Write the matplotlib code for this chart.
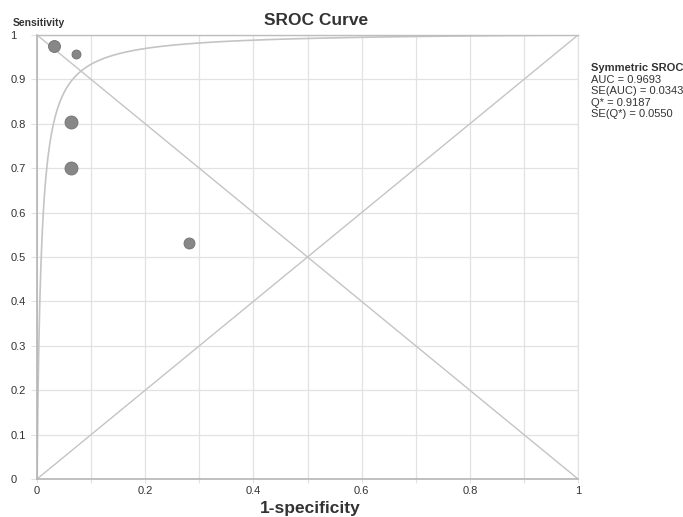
import numpy as np
import matplotlib.pyplot as plt

plt.rcParams['font.family'] = ['Liberation Sans', 'DejaVu Sans']

# study points (1-specificity, sensitivity) and relative marker size
fpr = [0.031, 0.072, 0.063, 0.063, 0.281]
tpr = [0.975, 0.957, 0.804, 0.700, 0.532]
msize = [12, 9, 13, 13, 11]

# symmetric SROC summary
auc = 0.9693
se_auc = 0.0343
q_star = 0.9187
se_q = 0.0550

ticks = np.round(np.arange(0, 1.01, 0.1), 1)
xlabels = ['0', '', '0.2', '', '0.4', '', '0.6', '', '0.8', '', '1']
ylabels = ['0', '0.1', '0.2', '0.3', '0.4', '0.5', '0.6', '0.7', '0.8', '0.9', '1']

fig = plt.figure(figsize=(6.83, 5.17), dpi=100)
ax = fig.add_axes([0.0542, 0.0735, 0.7921, 0.8588])

grid_c = '#e2e2e2'
line_c = '#c4c4c4'
txt_c = '#333333'

# fitted symmetric curve, D = 2*logit(Q*)
D = 2 * np.log(q_star / (1 - q_star))
xs = np.linspace(1e-5, 1, 600)
ys = 1 / (1 + np.exp(-(D + np.log(xs / (1 - xs)))))
ax.plot(xs, ys, color=line_c, lw=1.2, zorder=2)

ax.plot([0, 1], [0, 1], color=line_c, lw=1.0, zorder=2)
ax.plot([0, 1], [1, 0], color=line_c, lw=1.0, zorder=2)

for x, y, s in zip(fpr, tpr, msize):
    ax.plot(x, y, marker='o', ms=s * 0.72, color='#878787', mec='#727272',
            mew=0.6, ls='none', zorder=3)

ax.set_xlim(0, 1)
ax.set_ylim(0, 1)
ax.set_xticks(ticks)
ax.set_yticks(ticks)
ax.set_xticklabels(xlabels)
ax.set_yticklabels(ylabels, ha='left')
ax.grid(True, color=grid_c, lw=0.9, zorder=0)
ax.set_axisbelow(True)
ax.tick_params(axis='y', length=4.3, color=grid_c, pad=15, labelsize=8, labelcolor=txt_c)
ax.tick_params(axis='x', length=3, color=grid_c, pad=2, labelsize=8, labelcolor=txt_c)

for side in ['left', 'bottom']:
    ax.spines[side].set_color('#b5b5b5')
    ax.spines[side].set_linewidth(1.2)
ax.spines['top'].set_color('#bdbdbd')
ax.spines['top'].set_linewidth(1.0)
ax.spines['right'].set_color(grid_c)
ax.spines['right'].set_linewidth(0.9)

fig.text(0.463, 0.961, 'SROC Curve', ha='center', va='center', fontsize=12.5,
         fontweight='bold', color=txt_c)
fig.text(0.019, 0.956, 'Sensitivity', ha='left', va='center', fontsize=7.5,
         fontweight='bold', color=txt_c)
fig.text(0.454, 0.016, '1-specificity', ha='center', va='center', fontsize=12.5,
         fontweight='bold', color=txt_c)

fig.text(0.865, 0.868, 'Symmetric SROC', ha='left', va='center', fontsize=8,
         fontweight='bold', color=txt_c)
info = ['AUC = %.4f' % auc, 'SE(AUC) = %.4f' % se_auc,
        'Q* = %.4f' % q_star, 'SE(Q*) = %.4f' % se_q]
for i, t in enumerate(info):
    fig.text(0.865, 0.845 - i * 0.0219, t, ha='left', va='center', fontsize=8,
             color=txt_c)

fig.savefig('out.png', dpi=100, facecolor='white')
